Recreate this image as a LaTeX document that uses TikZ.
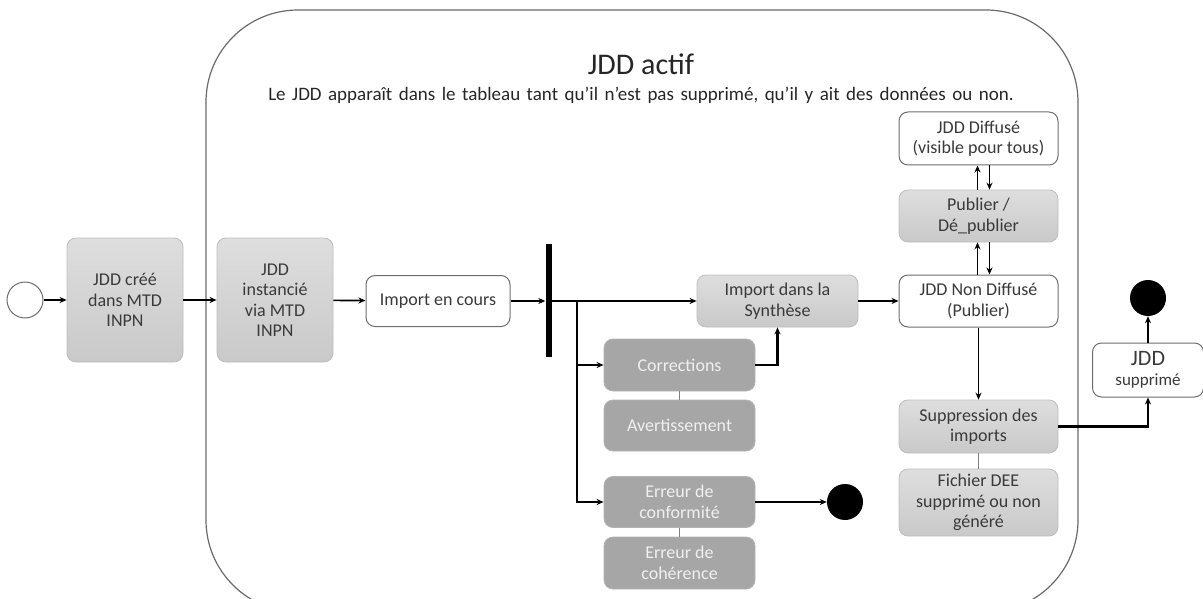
\documentclass[tikz,border=0pt]{standalone}
\usepackage{fontspec}
\setmainfont{Carlito}
\usetikzlibrary{arrows.meta}
\definecolor{txt}{HTML}{3A3A3A}
\definecolor{lgtop}{HTML}{DEDEDE}
\definecolor{lgbot}{HTML}{C9C9C9}
\definecolor{lgbd}{HTML}{BDBDBD}
\definecolor{dkfill}{HTML}{A6A6A6}
\definecolor{dkbd}{HTML}{B4B4B4}
\definecolor{wbd}{HTML}{6E6E6E}
\definecolor{frame}{HTML}{6A6A6A}
\begin{document}
\begin{tikzpicture}[x=1pt,y=-1pt,
  base/.style={rounded corners=9pt, align=center, inner sep=0pt, font=\fontsize{18}{20.5}\selectfont, text=txt},
  lbox/.style={base, draw=lgbd, line width=0.8pt, top color=lgtop, bottom color=lgbot},
  dbox/.style={base, draw=dkbd, line width=0.8pt, fill=dkfill, text={rgb,255:red,240;green,240;blue,240}},
  wbox/.style={base, draw=wbd, line width=1pt, fill=white},
  arr/.style={-{Stealth[length=7pt,width=6pt]}, line width=1.7pt, black},
  tarr/.style={-{Stealth[length=7pt,width=6pt]}, line width=2.4pt, black},
  link/.style={draw=gray, line width=0.8pt},
  dot/.style={circle, fill=black, minimum size=36pt, inner sep=0pt}
]
\useasboundingbox (0,0) rectangle (1203,599);
% container
\draw[frame, line width=1.2pt, rounded corners=92pt] (206,10) rectangle (1078,612);
\node[font=\fontsize{30}{34}\selectfont, text=black!85] (title) at (641,64) {JDD actif};
\node[font=\fontsize{19}{22}\selectfont, text=black!85] (sub) at (641,95) {\spaceskip=6.5pt plus 1pt Le JDD apparaît dans le tableau tant qu’il n’est pas supprimé, qu’il y ait des données ou non.};

% nodes
\node[circle, draw=wbd, line width=1pt, fill=white, minimum size=36pt, inner sep=0pt] (start) at (25,300) {};
\node[lbox, minimum width=116pt, minimum height=124pt] (b1) at (125,300) {JDD créé\\dans MTD\\INPN};
\node[lbox, minimum width=116pt, minimum height=124pt] (b2) at (275,300) {JDD\\instancié\\via MTD\\INPN};
\node[wbox, minimum width=144pt, minimum height=51pt] (imp) at (438,301) {Import en cours};
\node[fill=black, minimum width=6pt, minimum height=113pt, inner sep=0pt] (bar) at (548.5,300.5) {};
\node[lbox, minimum width=161pt, minimum height=52pt] (syn) at (777.5,301) {Import dans la\\Synthèse};
\node[dbox, minimum width=151pt, minimum height=52pt] (cor) at (679.5,365) {Corrections};
\node[dbox, minimum width=151pt, minimum height=51pt] (av) at (679.5,425.5) {Avertissement};
\node[dbox, minimum width=151pt, minimum height=51pt] (econf) at (679.5,502) {Erreur de\\conformité};
\node[dbox, minimum width=151pt, minimum height=52pt] (ecoh) at (679.5,563) {Erreur de\\cohérence};
\node[dot] (end1) at (845,502) {};
\node[wbox, minimum width=159pt, minimum height=53pt] (diff) at (978.5,138.5) {JDD Diffusé\\(visible pour tous)};
\node[lbox, minimum width=159pt, minimum height=52pt] (pub) at (978.5,216) {Publier /\\Dé\_publier};
\node[wbox, minimum width=159pt, minimum height=52pt] (nd) at (978.5,301) {JDD Non Diffusé\\(Publier)};
\node[lbox, minimum width=159pt, minimum height=53pt] (sup) at (978.5,426.5) {Suppression des\\imports};
\node[lbox, minimum width=159pt, minimum height=67pt] (dee) at (978.5,502.5) {Fichier DEE\\supprimé ou non\\généré};
\node[wbox, minimum width=111pt, minimum height=54pt] (jsup) at (1148,370) {{\fontsize{22}{23}\selectfont JDD}\\[-1pt]{\fontsize{17}{18}\selectfont supprimé}};
\node[dot] (end2) at (1148,298) {};

% connectors
\draw[arr] (start) -- (b1);
\draw[arr] (b1) -- (b2);
\draw[arr] (b2) -- (imp);
\draw[arr] (imp.east) -- (bar.west |- imp.east);
\draw[arr] (bar.east |- syn.west) -- (syn.west);
\coordinate (fk) at (577,301);
\draw[arr] (fk) |- (cor.west);
\draw[arr] (fk) |- (econf.west);
\draw[tarr] (cor.east) -| (syn.south);
\draw[link] (cor) -- (av);
\draw[link] (econf) -- (ecoh);
\draw[tarr] (econf) -- (end1);
\draw[arr] (syn) -- (nd);
\draw[arr] ([xshift=-1pt]nd.north) -- ([xshift=-1pt]pub.south);
\draw[arr] ([xshift=11pt]pub.south) -- ([xshift=11pt]nd.north);
\draw[arr] ([xshift=-1pt]pub.north) -- ([xshift=-1pt]diff.south);
\draw[arr] ([xshift=11pt]diff.south) -- ([xshift=11pt]pub.north);
\draw[arr] (nd) -- (sup);
\draw[link] (sup) -- (dee);
\draw[tarr] (sup.east) -| (jsup.south);
\draw[arr] (jsup) -- (end2);
\end{tikzpicture}
\end{document}
